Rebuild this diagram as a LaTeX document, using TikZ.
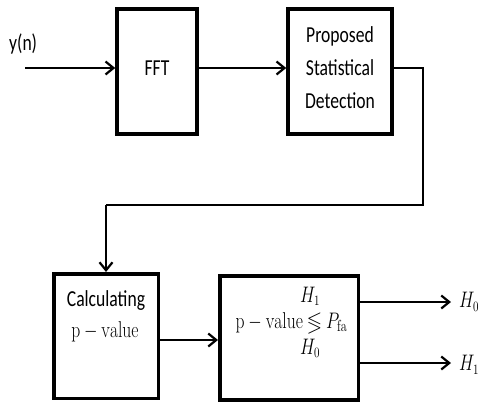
\documentclass[tikz,border=0pt]{standalone}
\usepackage{amssymb}
\usepackage{fontspec}
\setmainfont{Carlito}
\setmathrm{Latin Modern Roman}
\usetikzlibrary{arrows.meta,calc}
\newcommand\vstr[1]{\scalebox{1}[1.3]{#1}}
\begin{document}
\begin{tikzpicture}[x=1pt,y=-1pt,
  blk/.style={draw,line width=3.5pt,inner sep=0pt},
  txt/.style={inner sep=0pt,font=\fontsize{17.6}{21}\selectfont},
  otxt/.style={inner sep=0pt,font=\fontsize{16}{19}\selectfont},
  conn/.style={line width=2.2pt,-{Straight Barb[length=8pt,width=13pt,line width=2.2pt]}},
  wire/.style={line width=2.2pt}]
\fill[white] (0,0) rectangle (479,405);
\useasboundingbox (0,0) rectangle (479,405);
% blocks
\node[blk,minimum width=80pt,minimum height=125pt] (fft) at (157,71.5) {};
\node[blk,minimum width=104pt,minimum height=125pt] (psd) at (340,71.5) {};
\node[blk,minimum width=104.5pt,minimum height=124.5pt] (calc) at (106,336) {};
\node[blk,minimum width=138.5pt,minimum height=124pt] (dec) at (289,338) {};
% texts
\node[txt,anchor=base west] (yn) at (9,50) {\vstr{y(n)}};
\node[txt,anchor=base] (tfft) at (157,75) {\vstr{FFT}};
\node[txt,anchor=base] (tp1) at (340,42) {\vstr{Proposed}};
\node[txt,anchor=base] (tp2) at (340,75) {\vstr{Statistical}};
\node[txt,anchor=base] (tp3) at (340,108) {\vstr{Detection}};
\node[txt,anchor=base] (tc1) at (106,306) {\vstr{Calculating}};
\node[txt,anchor=base] (tc2) at (105,337) {\vstr{$\mathrm{p}-\mathrm{value}$}};
\node[otxt,anchor=base] (td1) at (310,302) {\vstr{$H_1$}};
\node[txt,anchor=base] (td2) at (291.5,328) {\vstr{$\mathrm{p}-\mathrm{value}\lessgtr P_{\mathrm{fa}}$}};
\node[otxt,anchor=base] (td3) at (310,354) {\vstr{$H_0$}};
% outputs
\node[otxt,anchor=west,inner xsep=8pt] (h0) at (451,302) {\vstr{$H_0$}};
\node[otxt,anchor=west,inner xsep=8pt] (h1) at (451,365) {\vstr{$H_1$}};
% connectors
\coordinate (in) at (25,68);
\draw[conn] (in) -- (fft.west |- in);
\draw[conn] (fft.east |- in) -- (psd.west |- in);
\coordinate (c1) at (423,68);
\coordinate (c2) at (423,205);
\coordinate (c3) at (106,205);
\draw[wire,line join=miter] (psd.east |- c1) -- (c1) -- (c2) -- (c3);
\draw[conn] (c3) -- (calc.north);
\coordinate (m) at (0,340);
\draw[conn] (calc.east |- m) -- (dec.west |- m);
\draw[conn] (dec.east |- 0,302) -- (h0.west |- 0,302);
\draw[conn] (dec.east |- 0,363) -- (h1.west |- 0,363);
\end{tikzpicture}
\end{document}
